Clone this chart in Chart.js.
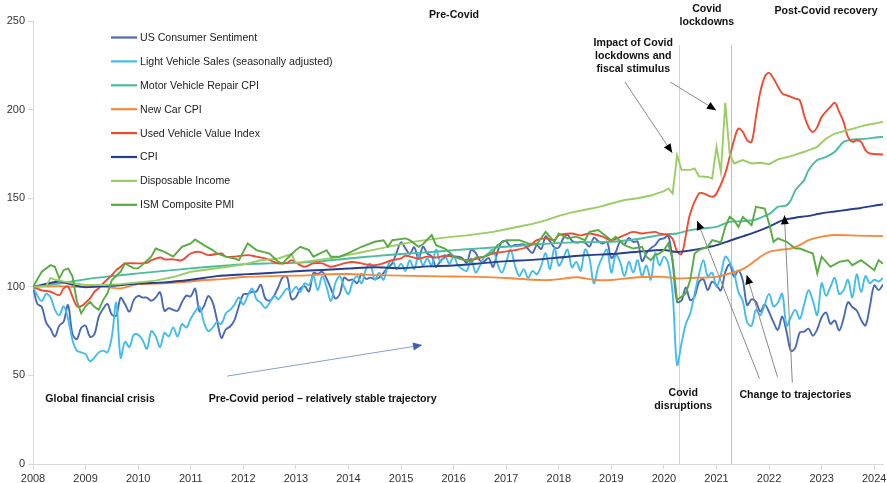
<!DOCTYPE html>
<html>
<head>
<meta charset="utf-8">
<script src="https://cdn.jsdelivr.net/npm/chart.js@4.4.1/dist/chart.umd.min.js"></script>
<style>
  html, body { margin: 0; padding: 0; background: #fff; }
  #wrap { width: 887px; height: 483px; }
</style>
</head>
<body>
<div id="wrap"><canvas id="chart" width="887" height="483"></canvas></div>
<script>
// x values are months since Jan 2008 (0 = Jan 2008, 194 = Mar 2024)
const yearTicks = [2008, 2009, 2010, 2011, 2012, 2013, 2014, 2015, 2016, 2017, 2018, 2019, 2020, 2021, 2022, 2023, 2024];

const seriesNames = [
  "US Consumer Sentiment",
  "Light Vehicle Sales (seasonally adjusted)",
  "Motor Vehicle Repair CPI",
  "New Car CPI",
  "Used Vehicle Value Index",
  "CPI",
  "Disposable Income",
  "ISM Composite PMI"
];
const seriesColors = ["#4a6ab8", "#45bde9", "#4dbb9e", "#f58a3c", "#ef4b33", "#253f8c", "#9acd65", "#5aab44"];

// monthly values, Jan 2008 = 100
const sentiment = [
  100, 90.3, 88.6, 79.8, 76.3, 71.9, 78.1, 80.4, 89.7, 73.5, 70.5, 76.7,
  78.1, 71.8, 73.1, 83.0, 87.6, 90.3, 84.2, 83.8, 93.8, 90.1, 86.0, 92.5,
  94.9, 93.9, 93.9, 92.1, 93.9, 96.9, 86.5, 87.9, 87.0, 86.4, 91.3, 95.0,
  94.6, 98.9, 86.1, 89.0, 94.8, 91.2, 81.3, 71.2, 75.9, 77.6, 81.3, 89.2,
  95.7, 96.0, 97.2, 97.4, 101.1, 93.4, 92.2, 94.8, 99.9, 105.4, 105.5, 93.0,
  94.1, 99.0, 100.3, 97.4, 107.8, 107.3, 108.5, 104.7, 98.9, 93.4, 95.8, 105.2,
  103.6, 104.1, 102.0, 107.3, 104.5, 105.2, 104.3, 105.2, 107.9, 110.8, 113.3, 119.4,
  125.1, 121.7, 118.6, 122.3, 115.7, 122.6, 118.8, 117.2, 111.2, 114.8, 116.5, 118.1,
  117.3, 117.0, 116.1, 113.5, 120.8, 119.3, 114.8, 114.5, 116.3, 111.2, 119.6, 125.3,
  125.6, 122.8, 123.6, 123.7, 123.9, 121.3, 119.1, 123.5, 121.3, 128.4, 125.6, 122.3,
  122.1, 127.2, 129.3, 126.0, 125.0, 125.3, 124.9, 122.7, 127.7, 125.8, 124.4, 125.4,
  116.3, 119.6, 125.5, 124.0, 127.6, 125.3, 125.5, 114.5, 118.9, 121.8, 123.5, 126.7,
  127.3, 128.8, 113.6, 91.6, 92.2, 99.6, 92.5, 94.5, 102.6, 104.3, 98.1, 102.9,
  100.8, 98.0, 108.3, 112.6, 105.7, 109.1, 103.6, 89.7, 92.9, 91.5, 86.0, 90.1,
  85.7, 80.1, 75.8, 83.2, 74.5, 63.8, 65.7, 74.2, 74.7, 76.4, 72.4, 76.1,
  82.8, 85.5, 79.1, 81.0, 75.3, 82.1, 91.3, 88.6, 86.6, 81.4, 78.2, 88.9,
  100.8, 98.1, 101.3
];

const vehicleSales = [
  100, 95, 92, 96, 94, 87, 84, 89, 82, 70, 64, 63,
  62, 58, 60, 63, 64, 63, 72, 91, 60, 69, 66, 73,
  73, 70, 65, 75, 72, 66, 74, 72, 77, 72, 79, 77,
  82, 86, 89, 80, 75, 77, 80, 79, 85, 87, 90, 94,
  90, 95, 99, 93, 91, 88, 91, 95, 93, 96, 99, 97,
  100, 97, 102, 101, 106, 98, 106, 100, 92, 102, 106, 100,
  96, 103, 106, 102, 110, 113, 104, 108, 104, 112, 115, 110,
  113, 109, 115, 110, 118, 112, 116, 112, 121, 114, 118, 113,
  117, 112, 110, 109, 116, 108, 112, 117, 119, 121, 113, 108,
  114, 121, 112, 106, 110, 105, 109, 107, 112, 119, 110, 122,
  112, 116, 121, 111, 114, 109, 121, 116, 102, 111, 117, 121,
  108, 118, 114, 106, 114, 108, 115, 106, 112, 104, 119, 112,
  117, 113, 96, 56, 68, 79, 85, 96, 107, 115, 106, 108,
  100, 107, 117, 114, 108, 97, 92, 80, 78, 87, 84, 90,
  96, 89, 91, 96, 78, 83, 87, 82, 90, 98, 92, 84,
  102, 95, 100, 105, 96, 98, 104, 94, 107, 97, 106, 102,
  104, 103, 105
];

// [month, value] readings
const repairCpi = [
  [0, 100], [6, 101.9], [12, 104.2], [18, 106], [24, 107.6], [30, 109], [36, 110.4], [42, 111.6],
  [48, 112.8], [54, 113.2], [60, 113.5], [66, 114.5], [72, 116], [78, 117.3], [84, 118.5], [90, 119.5],
  [96, 120.7], [102, 121.7], [108, 122.6], [114, 123.7], [120, 124.8], [126, 125.2], [132, 125.4],
  [138, 127], [144, 129.5], [147, 130.1], [150, 132], [153, 133], [156, 133.8], [159, 136.7],
  [162, 137], [165, 138], [167, 140], [168, 141], [170, 145.1], [172, 146], [173, 149], [174, 154.5],
  [176, 160.2], [177, 165.8], [179, 171.5], [181, 173.3], [183, 176.2], [185, 181.8], [187, 183.1],
  [188, 183.3], [190, 183.5], [192, 184.2], [194, 184.6]
];

const newCarCpi = [
  [0, 100], [6, 100.3], [10, 100], [14, 100.5], [18, 99.5], [20, 99.1], [24, 101.5], [30, 102],
  [36, 103], [39, 103.8], [44, 104.5], [48, 105.5], [54, 106], [60, 106.3], [64, 106.6], [66, 107],
  [72, 107.2], [78, 106.6], [84, 106.3], [90, 106], [96, 105.8], [102, 105.6], [108, 105], [114, 104],
  [118, 103.8], [120, 104.3], [124, 105.4], [128, 104], [132, 103.8], [138, 105.4], [144, 105.6],
  [147, 104.7], [150, 105], [156, 105.6], [159, 107.5], [162, 110], [164, 113.2], [166, 117],
  [168, 119.7], [170, 120.7], [173, 121.6], [175, 123.5], [177, 126.3], [180, 128.3], [183, 129.2],
  [188, 128.9], [194, 128.6]
];

const usedVehicles = [
  [0, 100], [2, 98], [4, 97.2], [6, 95.3], [7, 99.1], [8, 100], [9, 94.4], [10, 89.1], [11, 89.1],
  [13, 93.5], [14, 97.2], [15, 99.1], [16, 101.9], [18, 106.6], [19, 109.4], [20, 111.3], [21, 113.2],
  [24, 113.2], [26, 113.5], [27, 115], [29, 116.5], [30, 115.5], [32, 115.5], [34, 115], [36, 118.8],
  [38, 119.7], [40, 117.9], [43, 118.8], [44, 117], [46, 117], [49, 117.9], [51, 117], [53, 116],
  [55, 114.1], [56, 113.2], [58, 113.5], [59, 115], [61, 112.2], [62, 111.3], [64, 113.2], [66, 113.2],
  [68, 111.3], [71, 113.2], [73, 114], [78, 112.2], [82, 115], [84, 116], [85, 117.5], [88, 116],
  [90, 117], [92, 116.5], [94, 117.5], [96, 117], [99, 115], [103, 117], [105, 118.8], [110, 120.7],
  [113, 122.6], [115, 126.3], [117, 127.3], [119, 126.5], [120, 129.2], [123, 130.1], [125, 129],
  [127, 130.1], [130, 128.3], [132, 126.3], [135, 129.2], [137, 131], [139, 130.1], [142, 131],
  [143, 130], [145, 129.2], [146, 127], [147, 120], [148, 118.5], [149, 129], [150, 141.4],
  [152, 152.7], [153, 152.7], [155, 150.8], [156, 152.7], [158, 164], [159, 173.3], [160, 182.7],
  [161, 189.3], [162, 187.4], [163, 182.7], [164, 181.8], [165, 195.9], [166, 210], [167, 218.4],
  [168, 220.7], [169, 217.5], [171, 209.1], [172, 208.1], [174, 206.2], [175, 205.3], [176, 196.8],
  [177, 190.2], [178, 187.4], [179, 190.2], [180, 195.9], [182, 201.5], [183, 203.8], [184, 198.7],
  [185, 193.1], [186, 184.6], [187, 181.8], [188, 182.7], [189, 181.8], [190, 177.1], [191, 175.2],
  [194, 174.7]
];

const cpi = [
  [0, 100], [6, 103], [10, 100.5], [12, 99.7], [18, 100.5], [24, 101.8], [30, 102.5], [36, 104],
  [42, 106], [48, 107], [54, 107.8], [60, 108.8], [66, 109.5], [72, 110.3], [78, 111], [84, 110.5],
  [90, 111.5], [96, 112], [102, 113.2], [108, 114.5], [114, 115.2], [120, 116.5], [126, 117.8],
  [132, 118.5], [138, 119.8], [144, 120.8], [147, 119.6], [150, 120.5], [153, 121.8], [156, 123.5],
  [159, 126], [162, 128.5], [165, 131], [168, 134], [171, 137.5], [174, 139], [177, 140], [180, 141.5],
  [183, 142.5], [186, 143.5], [189, 144.5], [192, 145.8], [194, 146.5]
];

const income = [
  [0, 100], [3, 100.5], [4, 105], [5, 104], [8, 102.5], [12, 101], [16, 101], [20, 101.5],
  [24, 102.5], [28, 103.5], [32, 105.5], [36, 108.5], [42, 110.5], [48, 112.5], [52, 115], [56, 116],
  [59, 118.5], [60, 113.5], [63, 114.5], [66, 115.5], [69, 116.5], [72, 118], [75, 119.5], [78, 121],
  [81, 122.5], [84, 124], [87, 125.5], [90, 126.5], [93, 127.5], [96, 128.3], [99, 129], [102, 130],
  [105, 131], [108, 132.5], [111, 134], [114, 135.5], [117, 137.5], [120, 140], [123, 142],
  [126, 143.5], [129, 145], [132, 147], [135, 149], [138, 150], [141, 151.5], [144, 154],
  [145, 155.5], [146, 152.7], [147, 174.3], [148, 166], [150, 166], [151, 166.8], [152, 162.4],
  [154, 162], [155, 161.1], [156, 179], [157, 164.9], [158, 203.8], [159, 175.2], [160, 169.6],
  [162, 171.5], [164, 169.6], [166, 170], [168, 169.2], [170, 171.9], [173, 173.7], [176, 176.2],
  [179, 179], [181, 183.7], [183, 186.5], [186, 188.4], [190, 191.2], [194, 193.1]
];

const ismPmi = [
  [0, 100], [2, 108.5], [4, 112.2], [5, 111.3], [6, 104.7], [7, 109.4], [8, 110.4], [9, 106],
  [10, 92], [11, 85], [12, 89], [13, 91.5], [14, 88.7], [15, 87], [16, 92.5], [17, 96.3], [18, 103.8],
  [20, 108.5], [21, 113.2], [23, 110.4], [24, 110.4], [27, 117], [28, 121.6], [30, 119.7], [32, 117],
  [34, 122.6], [36, 124.5], [37, 126.7], [39, 123.5], [41, 120.7], [42, 118.8], [44, 117], [46, 116],
  [47, 115], [49, 124.5], [51, 120.7], [54, 118.8], [56, 114.1], [57, 113.2], [58, 116], [60, 120.7],
  [61, 122.6], [63, 120.7], [64, 117], [67, 120.7], [68, 117], [70, 117], [72, 119], [75, 122.6],
  [76, 123.5], [78, 125.4], [80, 126.3], [81, 122.6], [82, 126.3], [85, 127.3], [86, 126.3],
  [88, 122.6], [89, 124], [91, 129.2], [92, 123.5], [94, 121.6], [95, 119.7], [96, 117], [98, 115.5],
  [100, 114.1], [101, 116.5], [103, 117], [105, 119.7], [106, 123.5], [108, 126.3], [111, 126.3],
  [113, 124.5], [115, 124], [117, 131], [119, 125.4], [120, 130.1], [122, 127.3], [124, 128.3],
  [126, 126.3], [127, 131], [129, 132], [130, 130.1], [132, 126.3], [133, 128.3], [135, 123.5],
  [137, 121.6], [139, 122.6], [140, 117], [141, 115], [142, 117.9], [143, 118.8], [144, 120.7],
  [145, 124.5], [146, 115], [147, 92.5], [149, 96.3], [150, 103.8], [151, 118.8], [152, 120.7],
  [154, 122.6], [155, 126.3], [157, 125], [158, 133.8], [159, 139.5], [160, 137.6], [161, 133.8],
  [162, 139.5], [164, 134.8], [165, 145.1], [167, 144.2], [168, 135.8], [169, 125.4], [170, 127.3],
  [172, 125.4], [174, 121.6], [175, 121.6], [177, 119.7], [178, 118.8], [179, 107.5], [180, 117],
  [182, 111.3], [184, 114.1], [186, 115], [187, 112.2], [189, 115], [191, 111.3], [192, 109.4],
  [193, 115], [194, 113]
];

// period markers (month index) and text notes placed in data units
const periodLines = [147.5, 159.2];
const notes = [
  { lines: ["Pre-Covid"], m: 96.1, v: 253.5, align: "center" },
  { lines: ["Covid", "lockdowns"], m: 153.8, v: 256.8, align: "center" },
  { lines: ["Post-Covid recovery"], m: 181, v: 255.8, align: "center" },
  { lines: ["Impact of Covid", "lockdowns and", "fiscal stimulus"], m: 137, v: 237.3, align: "center" },
  { lines: ["Global financial crisis"], m: 2.8, v: 36.5, align: "left" },
  { lines: ["Pre-Covid period \u2013 relatively stable trajectory"], m: 40.1, v: 36.5, align: "left" },
  { lines: ["Covid", "disruptions"], m: 148.4, v: 40, align: "center" },
  { lines: ["Change to trajectories"], m: 174, v: 39.1, align: "center" }
];
// arrows: [fromMonth, fromValue, toMonth, toValue]
const blackArrows = [
  [135.1, 215.6, 145.9, 175.6],
  [145.4, 215.6, 155.9, 199.7],
  [165.8, 48.3, 151.6, 137.2],
  [169.9, 49.2, 162.9, 106.6],
  [173.3, 45.9, 171.5, 140.4]
];
const blueArrow = [44.3, 49.6, 88.8, 67.1];

const monthly = values => values.map((v, m) => ({ x: m, y: v }));
const pairs = list => list.map(([m, v]) => ({ x: m, y: v }));

const seriesData = [
  monthly(sentiment), monthly(vehicleSales), pairs(repairCpi), pairs(newCarCpi),
  pairs(usedVehicles), pairs(cpi), pairs(income), pairs(ismPmi)
];
const smoothing = [0.35, 0.35, 0.2, 0.2, 0.35, 0.2, 0, 0];

const datasets = seriesNames.map((name, i) => ({
  label: name,
  data: seriesData[i],
  borderColor: seriesColors[i],
  backgroundColor: seriesColors[i],
  borderWidth: 1.9,
  tension: smoothing[i],
  pointRadius: 0,
  fill: false,
  order: seriesNames.length - i
}));

function arrowHead(ctx, x1, y1, x2, y2, color) {
  const ang = Math.atan2(y2 - y1, x2 - x1);
  const len = 9, half = 4;
  ctx.fillStyle = color;
  ctx.beginPath();
  ctx.moveTo(x2, y2);
  ctx.lineTo(x2 - len * Math.cos(ang) + half * Math.sin(ang), y2 - len * Math.sin(ang) - half * Math.cos(ang));
  ctx.lineTo(x2 - len * Math.cos(ang) - half * Math.sin(ang), y2 - len * Math.sin(ang) + half * Math.cos(ang));
  ctx.closePath();
  ctx.fill();
}

const extras = {
  id: "extras",
  beforeDatasetsDraw(chart) {
    const { ctx, scales: { x, y } } = chart;
    const colors = ["#b3dcf3", "#8ccdf0"];
    periodLines.forEach((m, i) => {
      ctx.save();
      ctx.strokeStyle = colors[i];
      ctx.lineWidth = 1;
      ctx.beginPath();
      const px = Math.round(x.getPixelForValue(m)) + 0.5;
      ctx.moveTo(px, y.getPixelForValue(236.5));
      ctx.lineTo(px, y.getPixelForValue(0));
      ctx.stroke();
      ctx.restore();
    });
  },
  afterDraw(chart) {
    const { ctx, scales: { x, y } } = chart;
    ctx.save();

    // legend
    ctx.font = "10.6px 'Liberation Sans', Arial, sans-serif";
    ctx.textBaseline = "middle";
    ctx.textAlign = "left";
    seriesNames.forEach((name, i) => {
      const rowY = 37.5 + i * 23.9;
      ctx.strokeStyle = seriesColors[i];
      ctx.lineWidth = 2.2;
      ctx.beginPath();
      ctx.moveTo(111, rowY);
      ctx.lineTo(137, rowY);
      ctx.stroke();
      ctx.fillStyle = "#222";
      ctx.fillText(name, 140, rowY + 0.5);
    });

    // black arrows
    blackArrows.forEach(([m1, v1, m2, v2]) => {
      const x1 = x.getPixelForValue(m1), y1 = y.getPixelForValue(v1);
      const x2 = x.getPixelForValue(m2), y2 = y.getPixelForValue(v2);
      ctx.strokeStyle = "#8a8a8a";
      ctx.lineWidth = 1;
      ctx.beginPath();
      ctx.moveTo(x1, y1);
      ctx.lineTo(x2, y2);
      ctx.stroke();
      arrowHead(ctx, x1, y1, x2, y2, "#000");
    });

    // blue arrow
    {
      const [m1, v1, m2, v2] = blueArrow;
      const x1 = x.getPixelForValue(m1), y1 = y.getPixelForValue(v1);
      const x2 = x.getPixelForValue(m2), y2 = y.getPixelForValue(v2);
      ctx.strokeStyle = "#8a9ed6";
      ctx.lineWidth = 1;
      ctx.beginPath();
      ctx.moveTo(x1, y1);
      ctx.lineTo(x2, y2);
      ctx.stroke();
      arrowHead(ctx, x1, y1, x2, y2, "#3f5fb0");
    }

    // text notes
    ctx.font = "bold 10.6px 'Liberation Sans', Arial, sans-serif";
    ctx.fillStyle = "#111";
    notes.forEach(n => {
      const px = x.getPixelForValue(n.m);
      const py = y.getPixelForValue(n.v);
      ctx.textAlign = n.align;
      n.lines.forEach((t, k) => ctx.fillText(t, px, py + k * 12.7));
    });
    ctx.restore();
  }
};

new Chart(document.getElementById("chart"), {
  type: "line",
  data: { datasets },
  plugins: [extras],
  options: {
    responsive: false,
    animation: false,
    layout: { padding: { top: 21, right: 4, left: 0, bottom: 0 } },
    plugins: { legend: { display: false }, tooltip: { enabled: false } },
    elements: { point: { radius: 0 } },
    scales: {
      x: {
        type: "linear",
        min: 0,
        max: 194,
        afterFit: s => { s.height = 19; s.paddingLeft = 0; s.paddingRight = 0; },
        border: { color: "#d9d9d9" },
        grid: { drawOnChartArea: false, tickLength: 5, color: "#d9d9d9" },
        ticks: {
          stepSize: 12,
          includeBounds: false,
          maxRotation: 0,
          autoSkip: false,
          padding: 3,
          color: "#333",
          font: { family: "'Liberation Sans', Arial, sans-serif", size: 11 },
          callback: v => (v % 12 === 0 ? String(yearTicks[v / 12]) : "")
        }
      },
      y: {
        min: 0,
        max: 250,
        afterFit: s => { s.width = 33; },
        border: { color: "#d9d9d9" },
        grid: { drawOnChartArea: false, tickLength: 5, color: "#d9d9d9" },
        ticks: {
          stepSize: 50,
          padding: 3,
          color: "#333",
          font: { family: "'Liberation Sans', Arial, sans-serif", size: 11 }
        }
      }
    }
  }
});
</script>
</body>
</html>
